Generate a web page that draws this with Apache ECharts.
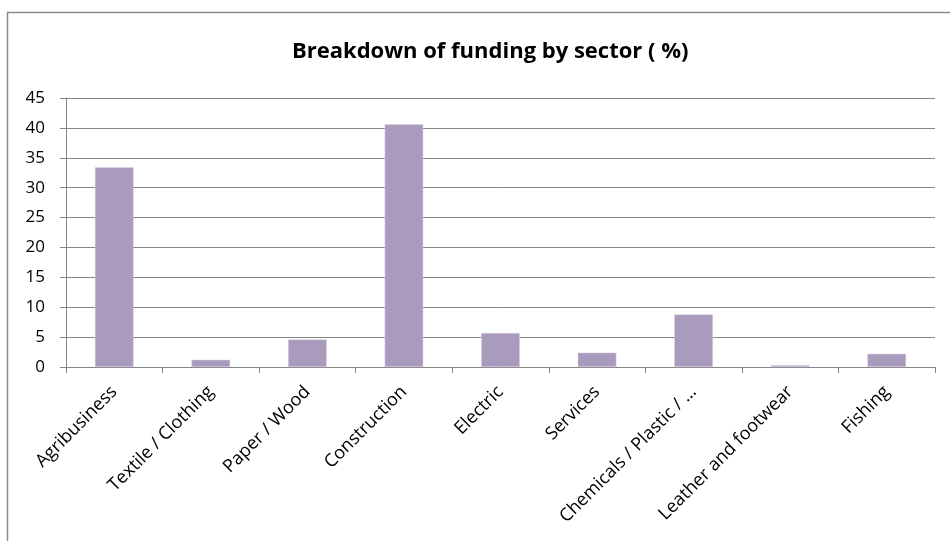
<!DOCTYPE html>
<html>
<head>
<meta charset="utf-8">
<script src="https://cdn.jsdelivr.net/npm/echarts@6/dist/echarts.min.js"></script>
<style>
  html, body { margin: 0; padding: 0; background: #ffffff; }
  #chart { width: 950px; height: 541px; }
</style>
</head>
<body>
<div id="chart"></div>
<script>
// Share of funding per sector, in percent
const sectors = [
  'Agribusiness', 'Textile / Clothing', 'Paper / Wood', 'Construction',
  'Electric', 'Services', 'Chemicals / Plastic / …', 'Leather and footwear', 'Fishing'
];
const shares = [33.4, 1.2, 4.6, 40.6, 5.7, 2.4, 8.8, 0.3, 2.2];
const yTicks = [0, 5, 10, 15, 20, 25, 30, 35, 40, 45];

const FONT = '"Open Sans", "Noto Sans", sans-serif';
const GRID_GREY = '#858585';

const chart = echarts.init(document.getElementById('chart'), null, { renderer: 'canvas' });

chart.setOption({
  backgroundColor: '#ffffff',
  animation: false,
  title: {
    text: 'Breakdown of funding by sector ( %)',
    left: 287,
    top: 36,
    textStyle: { fontFamily: FONT, fontSize: 22, fontWeight: 'bold', color: '#000000' }
  },
  graphic: [{
    type: 'rect',
    silent: true,
    shape: { x: 7.5, y: 12.5, width: 1000, height: 1000 },
    style: { fill: 'none', stroke: '#8a8a8a', lineWidth: 1.5 }
  }],
  grid: { left: 66, right: 15, top: 98, bottom: 174, containLabel: false },
  xAxis: {
    type: 'category',
    data: sectors,
    boundaryGap: true,
    axisLine: { show: true, lineStyle: { color: GRID_GREY, width: 1 } },
    axisTick: { show: true, length: 6, lineStyle: { color: GRID_GREY, width: 1 } },
    axisLabel: {
      rotate: 45,
      interval: 0,
      margin: 22,
      fontFamily: FONT,
      fontSize: 18,
      color: '#000000'
    },
    splitLine: { show: false }
  },
  yAxis: {
    type: 'value',
    min: yTicks[0],
    max: yTicks[yTicks.length - 1],
    interval: yTicks[1] - yTicks[0],
    axisLine: { show: true, lineStyle: { color: GRID_GREY, width: 1 } },
    axisTick: { show: true, length: 6, lineStyle: { color: GRID_GREY, width: 1 } },
    axisLabel: {
      margin: 21,
      fontFamily: FONT,
      fontSize: 17,
      color: '#000000'
    },
    splitLine: { show: true, lineStyle: { color: GRID_GREY, width: 1 } }
  },
  series: [{
    type: 'bar',
    data: shares,
    barWidth: '40%',
    itemStyle: { color: '#a99bbe', borderColor: '#d8d0e3', borderWidth: 0.5 }
  }]
});
</script>
</body>
</html>
